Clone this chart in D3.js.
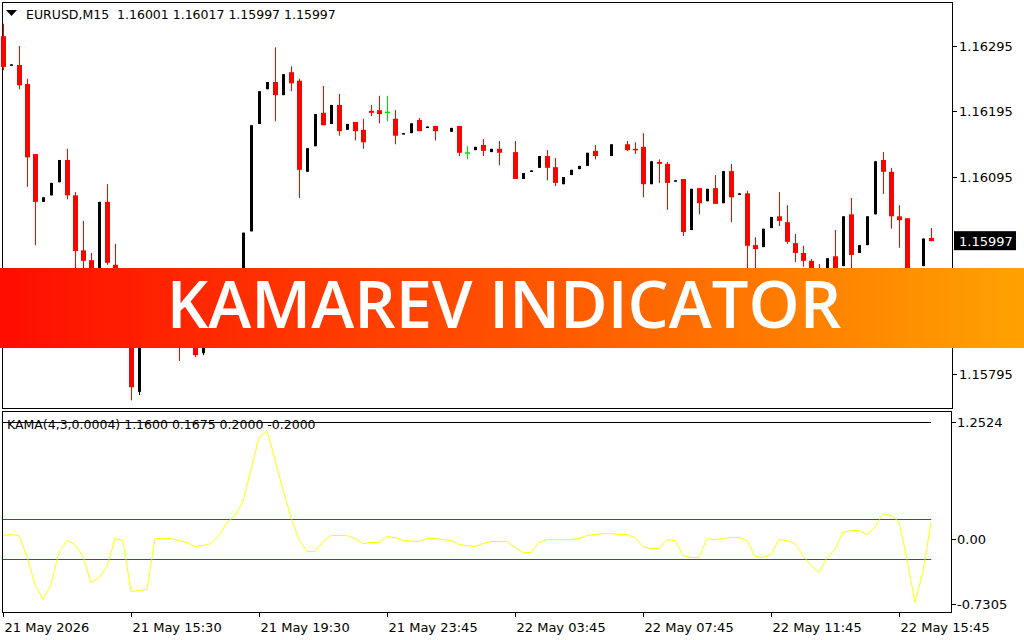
<!DOCTYPE html>
<html>
<head>
  <title>Kamarev Indicator</title>
</head>
<body>
  <svg id="svg" width="1024" height="640"></svg>

  <script src="https://d3js.org/d3.v7.min.js"></script>
  <script>
    // EURUSD M15 candles, in points above 1.16000: [open, high, low, close]; null = no bar
    const basePrice = 1.16
    const candles = [
      [310, 329, 258, 263], [266, 267, 266, 267], [266, 295, 229, 235], [237, 245, 80, 125],
      [130, 130, -9, 57], [57, 64, 57, 64], [67, 86, 67, 86], [87, 121, 87, 121],
      [121, 138, 61, 67], [67, 72, -47, -18], [-17, 28, -44, -33], [-32, -21, -65, -55],
      [-78, 57, -85, 57], [57, 84, -39, -36], [-39, -7, -100, -93], [-93, -85, -123, -108],
      [-108, -100, -246, -226], [-233, -123, -238, -131], [-131, -85, -139, -93], [-93, -78, -123, -116],
      [-116, -78, -120, -85], [-85, -70, -116, -108], [-123, -93, -186, -146], [-139, -108, -146, -116],
      [-123, -116, -180, -177], [-174, -116, -177, -123], [-123, -93, -131, -100], [-100, -85, -123, -116],
      [-116, -70, -123, -85], [-85, -47, -93, -70], [-78, 10, -81, 10], [12, 174, 12, 174],
      [176, 226, 176, 226], [229, 240, 229, 240], [240, 293, 180, 220], [220, 252, 220, 252],
      [255, 264, 226, 238], [242, 245, 63, 106], [103, 139, 103, 139], [142, 191, 142, 191],
      [193, 234, 174, 174], [176, 205, 176, 205], [205, 222, 158, 165], [167, 176, 167, 176],
      [179, 179, 151, 165], [167, 184, 138, 148], [196, 205, 188, 193], [197, 219, 177, 191],
      [194, 219, 180, 194], [184, 197, 145, 158], [161, 162, 161, 162], [162, 177, 162, 177],
      [182, 185, 165, 165], [171, 172, 171, 172], [173, 173, 151, 165], null,
      [164, 170, 164, 170], [173, 173, 127, 132], [132, 142, 122, 132], [136, 141, 136, 141],
      [144, 153, 127, 135], [133, 138, 133, 138], [138, 150, 113, 132], null,
      [133, 150, 92, 92], [92, 101, 92, 101], [104, 105, 104, 105], [109, 127, 109, 127],
      [127, 136, 90, 109], [110, 124, 81, 86], [84, 95, 84, 95], [98, 106, 98, 106],
      [107, 112, 107, 112], [112, 132, 112, 132], [135, 144, 122, 127], null,
      [127, 145, 127, 145], null, [145, 150, 135, 136], [138, 148, 130, 137],
      [141, 162, 64, 84], [84, 119, 84, 119], [118, 122, 86, 115], [115, 118, 45, 86],
      [89, 90, 89, 90], [92, 92, 5, 11], [14, 77, 14, 77], [78, 78, 38, 55],
      [58, 77, 58, 77], [78, 98, 54, 54], [55, 104, 55, 104], [104, 115, 26, 64],
      [69, 70, 69, 70], [70, 74, -55, -10], [-9, 3, -50, -15], [-12, 16, -12, 16],
      [17, 34, 17, 34], [35, 72, 20, 28], [26, 52, -7, -4], [-6, 8, -35, -21],
      [-21, -10, -42, -33], [-33, -30, -59, -50], [-55, -38, -70, -59], [-78, -29, -85, -29],
      [-26, 14, -93, -70], [-41, 35, -41, 35], [38, 63, -78, -24], [-21, -9, -21, -9],
      [-9, 35, -9, 35], [38, 119, 38, 119], [121, 133, 69, 103], [103, 109, 16, 35],
      [35, 52, -13, 29], [32, 32, -70, -62], null, [-41, 1, -41, 1],
      [2, 17, -3, -3]
    ]

    // KAMA oscillator value per bar
    const kama = [
      0.035, 0.045, 0.035, -0.175, -0.455, -0.605, -0.455, -0.135, -0.015, -0.055,
      -0.175, -0.435, -0.385, -0.275, 0.005, -0.015, -0.525, -0.515, -0.505, 0.005,
      0.005, 0.005, -0.015, -0.035, -0.075, -0.065, -0.045, 0.035, 0.165, 0.235,
      0.375, 0.695, 1.015, 1.085, 0.795, 0.495, 0.215, -0.005, -0.125, -0.125,
      -0.025, 0.035, 0.035, 0.035, 0.005, -0.045, -0.035, -0.035, 0.025, 0.015,
      -0.015, -0.02, -0.025, 0.005, 0.005, -0.005, -0.015, -0.055, -0.065, -0.075,
      -0.045, -0.025, -0.025, -0.025, -0.085, -0.135, -0.135, -0.035, -0.005, -0.005,
      -0.005, -0.005, 0.005, 0.035, 0.045, 0.055, 0.055, 0.045, 0.045, 0.015,
      -0.075, -0.095, -0.095, -0.005, -0.015, -0.165, -0.185, -0.185, 0.005, -0.005,
      0.005, 0.015, 0.015, -0.015, -0.175, -0.185, -0.155, -0.005, -0.015, -0.045,
      -0.165, -0.265, -0.335, -0.185, -0.105, 0.065, 0.085, 0.085, 0.045, 0.115,
      0.255, 0.235, 0.175, -0.205, -0.635, -0.325, 0.165
    ]

    const priceTicks = [1.16295, 1.16195, 1.16095, 1.15795]
    const lastPrice = 1.15997
    const kamaTicks = [1.2524, 0.00, -0.7305]
    const kamaLevels = [0.2, -0.2]
    const kamaTopLevel = 1.17
    const timeLabels = ['21 May 2026', '21 May 15:30', '21 May 19:30', '21 May 23:45',
      '22 May 03:45', '22 May 07:45', '22 May 11:45', '22 May 15:45']
    const timeLabelBars = [0, 16, 32, 48, 64, 80, 96, 112]
    const title = 'EURUSD,M15  1.16001 1.16017 1.15997 1.15997'
    const kamaTitle = 'KAMA(4,3,0.0004) 1.1600 0.1675 0.2000 -0.2000'
    const bannerText = 'KAMAREV INDICATOR'

    const svg = d3.select('#svg')
    const font = '"DejaVu Sans", Tahoma, sans-serif'
    const fs = 12.5

    svg.append('rect').attr('width', 1024).attr('height', 640).attr('fill', 'white')

    const xscale = d3.scaleLinear().domain([0, 116]).range([3, 931])
    const yprice = d3.scaleLinear().domain([1.15795, 1.16295]).range([373.5, 46])
    const ykama = d3.scaleLinear().domain([-0.7305, 1.2524]).range([612, 414])

    // panel frames
    svg.append('rect').attr('x', 2.5).attr('y', 2.5).attr('width', 950).attr('height', 406)
      .attr('fill', 'none').attr('stroke', 'black')
    svg.append('rect').attr('x', 2.5).attr('y', 411.5).attr('width', 949).attr('height', 201)
      .attr('fill', 'none').attr('stroke', 'black')

    // candles
    const cg = svg.append('g')
    candles.forEach((c, i) => {
      if (!c) return
      const [o, h, l, cl] = c.map(v => basePrice + v / 100000)
      const x = Math.round(xscale(i))
      const color = cl < o ? '#ff0000' : (cl > o ? '#000000' : '#00e000')
      cg.append('line').attr('x1', x + 0.5).attr('x2', x + 0.5)
        .attr('y1', yprice(h)).attr('y2', yprice(l))
        .attr('stroke', color).attr('stroke-width', 1)
      const top = yprice(Math.max(o, cl)), bot = yprice(Math.min(o, cl))
      const w = cl < o ? 5 : 3
      if (cl === o) {
        cg.append('rect').attr('x', x - 2).attr('y', top - 0.5).attr('width', 5).attr('height', 1.5).attr('fill', color)
      } else {
        cg.append('rect').attr('x', x + 0.5 - w / 2).attr('y', top)
          .attr('width', w).attr('height', Math.max(1.5, bot - top)).attr('fill', color)
      }
    })

    // price axis
    const pa = svg.append('g').attr('font-family', font).attr('font-size', 13)
    priceTicks.forEach(p => {
      const y = Math.round(yprice(p)) + 0.5
      pa.append('line').attr('x1', 953).attr('x2', 957).attr('y1', y).attr('y2', y).attr('stroke', 'black')
      pa.append('text').attr('x', 959).attr('y', y + 4.5).text(p.toFixed(5))
    })
    const ly = yprice(lastPrice)
    pa.append('rect').attr('x', 954).attr('y', ly - 10).attr('width', 62).attr('height', 19).attr('fill', 'black')
    pa.append('text').attr('x', 959).attr('y', ly + 4.5).attr('fill', 'white').text(lastPrice.toFixed(5))

    svg.append('path').attr('d', 'M6,10 L17,10 L11.5,16 Z').attr('fill', 'black')
    svg.append('text').attr('x', 26).attr('y', 19).attr('font-family', font).attr('font-size', fs)
      .style('white-space', 'pre').text(title)

    // indicator window
    const ig = svg.append('g')
    ig.append('line').attr('x1', 3).attr('x2', 931).attr('y1', Math.round(ykama(kamaTopLevel)) + 0.5)
      .attr('y2', Math.round(ykama(kamaTopLevel)) + 0.5).attr('stroke', 'black')
    kamaLevels.forEach(v => {
      const y = Math.round(ykama(v)) + 0.5
      ig.append('line').attr('x1', 3).attr('x2', 931).attr('y1', y).attr('y2', y).attr('stroke', '#ff0000')
    })
    const linegen = d3.line().x((d, i) => xscale(i)).y(d => ykama(d))
    ig.append('path').attr('d', linegen(kama)).attr('fill', 'none').attr('stroke', '#ffff00').attr('stroke-width', 1)
    ig.append('text').attr('x', 7).attr('y', 429).attr('font-family', font).attr('font-size', fs).text(kamaTitle)

    kamaTicks.forEach((v, k) => {
      const y = k === 0 ? 422 : (k === 2 ? 604 : Math.round(ykama(v)))
      ig.append('line').attr('x1', 952).attr('x2', 956).attr('y1', y + 0.5).attr('y2', y + 0.5).attr('stroke', 'black')
      ig.append('text').attr('x', 957).attr('y', y + 4.5).attr('font-family', font).attr('font-size', 13)
        .text(Math.abs(v) < 1e-9 ? '0.00' : v.toFixed(4))
    })

    // time axis
    timeLabels.forEach((t, k) => {
      const x = Math.round(xscale(timeLabelBars[k])) + 0.5
      svg.append('line').attr('x1', x).attr('x2', x).attr('y1', 612).attr('y2', 617).attr('stroke', 'black')
      svg.append('text').attr('x', x + 1).attr('y', 632).attr('font-family', font).attr('font-size', 13).text(t)
    })

    // banner
    const grad = svg.append('defs').append('linearGradient').attr('id', 'bg')
    grad.append('stop').attr('offset', '0%').attr('stop-color', '#ff0d00')
    grad.append('stop').attr('offset', '50%').attr('stop-color', '#ff5200')
    grad.append('stop').attr('offset', '100%').attr('stop-color', '#ffa200')
    svg.append('rect').attr('x', 0).attr('y', 268).attr('width', 1024).attr('height', 80).attr('fill', 'url(#bg)')
    svg.append('text').attr('x', 504).attr('y', 328).attr('text-anchor', 'middle')
      .attr('font-family', '"Open Sans", sans-serif').attr('font-weight', 600).attr('font-size', 65)
      .attr('fill', 'white').text(bannerText)
  </script>
</body>
<style>
  body, html { margin: 0; padding: 0; }
</style>
</html>
